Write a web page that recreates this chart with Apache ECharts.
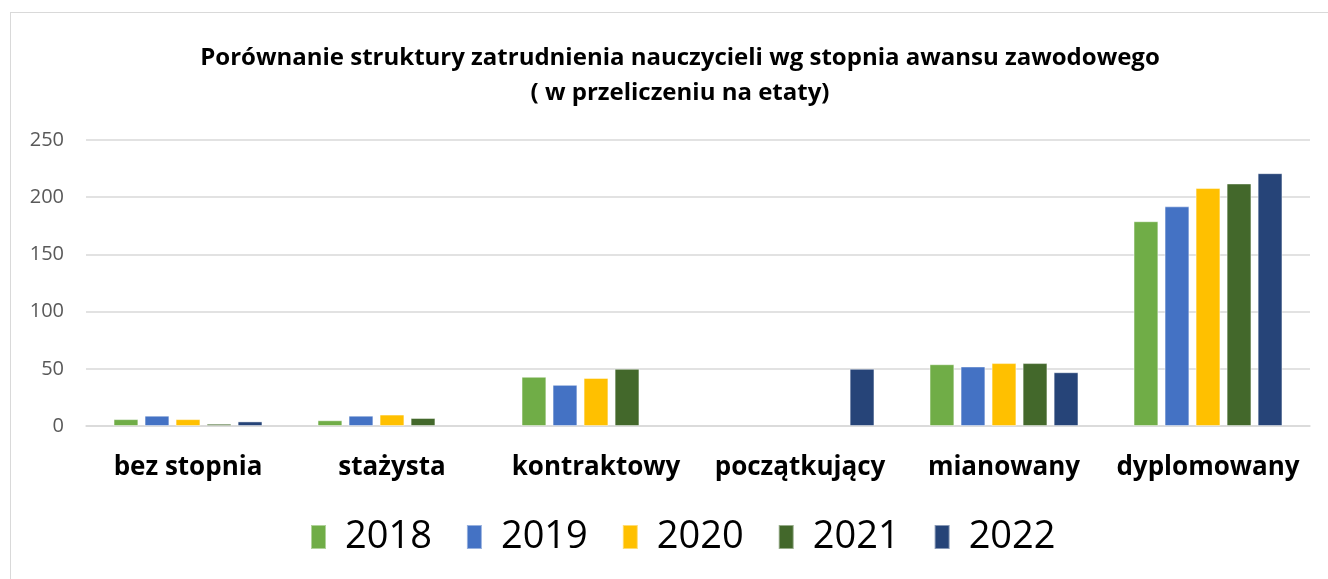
<!DOCTYPE html>
<html>
<head>
<meta charset="utf-8">
<script src="https://cdn.jsdelivr.net/npm/echarts@6/dist/echarts.min.js"></script>
<style>
  html, body { margin: 0; padding: 0; background: #fff; }
  #frame { position: absolute; left: 10px; top: 12px; width: 1330px; height: 580px; border: 1px solid #d9d9d9; box-sizing: border-box; }
  #chart { position: absolute; left: 0; top: 0; width: 1328px; height: 579px; }
</style>
</head>
<body>
<div id="frame"></div>
<div id="chart"></div>
<script>
// dane
var categories = ['bez stopnia', 'stażysta', 'kontraktowy', 'początkujący', 'mianowany', 'dyplomowany'];
var years = ['2018', '2019', '2020', '2021', '2022'];
var colors = ['#70AD47', '#4472C4', '#FFC000', '#43682B', '#264478'];
var v2018 = [6, 5, 43, null, 54, 179];
var v2019 = [9, 9, 36, null, 52, 192];
var v2020 = [6, 10, 42, null, 55, 208];
var v2021 = [2, 7, 50, null, 55, 212];
var v2022 = [4, null, null, 50, 47, 221];
var values = [v2018, v2019, v2020, v2021, v2022];

var font = '"Open Sans", "Noto Sans", sans-serif';
var chart = echarts.init(document.getElementById('chart'));

var series = years.map(function (y, i) {
    return {
        name: y,
        type: 'bar',
        data: values[i],
        barGap: '25%',
        barCategoryGap: '27%',
        itemStyle: {
            color: colors[i],
            borderColor: 'rgba(255,255,255,0.45)',
            borderWidth: 1
        }
    };
});

chart.setOption({
    animation: false,
    title: {
        text: 'Porównanie struktury zatrudnienia nauczycieli wg stopnia awansu zawodowego\n( w przeliczeniu na etaty)',
        left: 675,
        textAlign: 'center',
        top: 36,
        textStyle: {
            fontFamily: font,
            fontSize: 24,
            fontWeight: 'bold',
            color: '#000',
            lineHeight: 35
        }
    },
    legend: {
        top: 513,
        left: 305,
        itemWidth: 15,
        itemHeight: 24,
        itemGap: 34,
        icon: 'rect',
        textStyle: { fontFamily: font, fontSize: 38, color: '#000', padding: [0, 0, 0, 14] },
        data: years
    },
    grid: { left: 86, right: 18, top: 140, bottom: 153 },
    xAxis: {
        type: 'category',
        data: categories,
        axisTick: { show: false },
        axisLine: { lineStyle: { color: '#d9d9d9', width: 1.5 } },
        axisLabel: {
            interval: 0,
            fontFamily: font,
            fontSize: 26,
            fontWeight: 'bold',
            color: '#000',
            margin: 29
        }
    },
    yAxis: {
        type: 'value',
        min: 0,
        max: 250,
        interval: 50,
        axisLine: { show: false },
        axisTick: { show: false },
        splitLine: { lineStyle: { color: '#d9d9d9', width: 1.5 } },
        axisLabel: { fontFamily: font, fontSize: 20, color: '#595959', margin: 22 }
    },
    series: series
});
</script>
</body>
</html>
